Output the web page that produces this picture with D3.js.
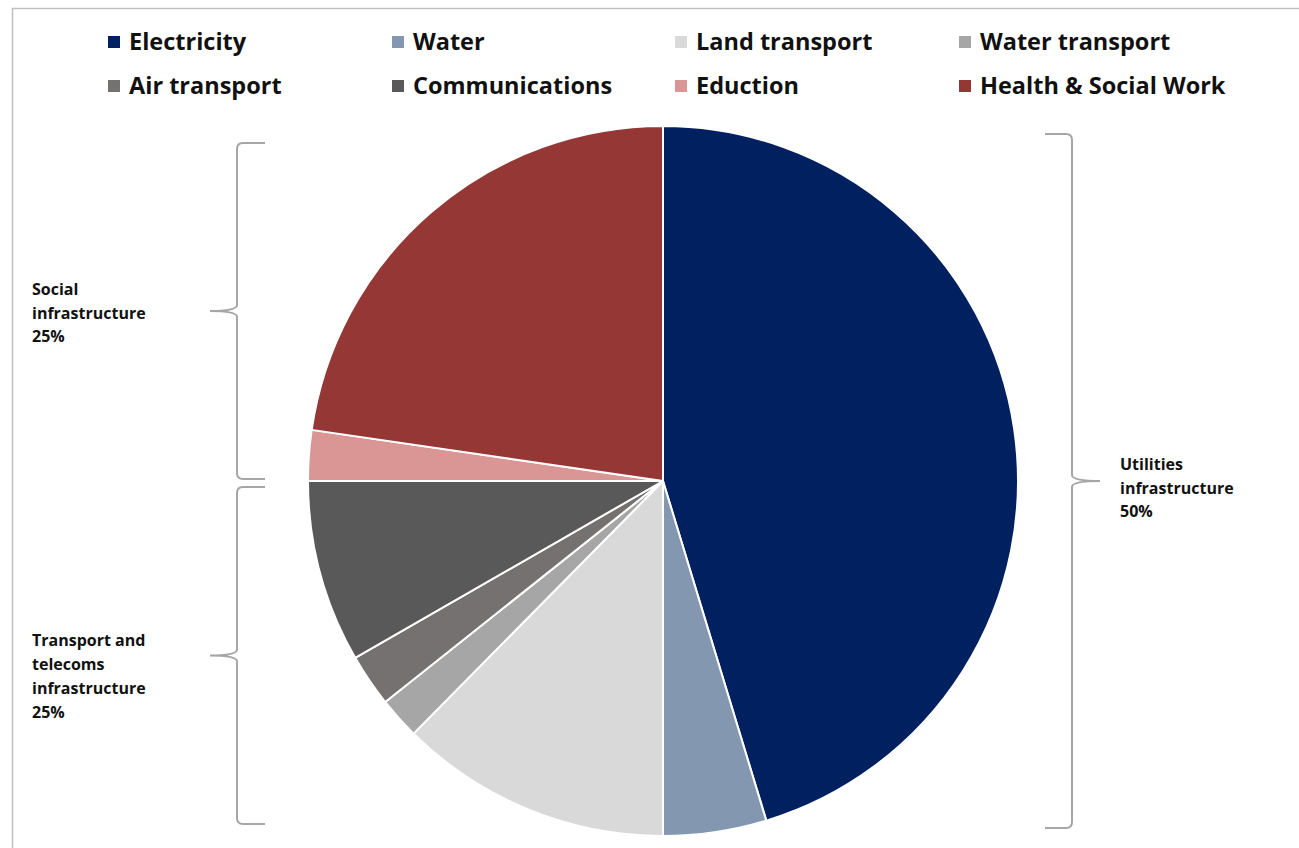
<!DOCTYPE html>
<html>
<head>
<meta charset="utf-8">
<script src="https://cdn.jsdelivr.net/npm/d3@7"></script>
<style>
  html, body { margin: 0; padding: 0; background: #fff; }
  svg { display: block; }
  text { font-family: "Open Sans", Lato, sans-serif; font-weight: bold; fill: #111; }
</style>
</head>
<body>
<svg id="chart" width="1299" height="848"></svg>
<script>
const categories = ["Electricity", "Water", "Land transport", "Water transport",
                    "Air transport", "Communications", "Eduction", "Health & Social Work"];
const values = [45.3, 4.7, 12.4, 1.9, 2.4, 8.3, 2.3, 22.7];
const colors = ["#002060", "#8497B0", "#D9D9D9", "#A6A6A6", "#767171", "#595959", "#D99694", "#953735"];

const groupLabels = [
  ["Utilities", "infrastructure", "50%"],
  ["Transport and", "telecoms", "infrastructure", "25%"],
  ["Social", "infrastructure", "25%"]
];

const svg = d3.select("#chart");
const W = 1299, H = 848;

// frame
svg.append("path")
  .attr("d", `M12.5,${H} L12.5,8.5 L${W},8.5`)
  .attr("fill", "none").attr("stroke", "#BFBFBF").attr("stroke-width", 1.5);

// pie
const cx = 663, cy = 481, R = 355;
const pie = d3.pie().sort(null).value(d => d)(values);
const arc = d3.arc().innerRadius(0).outerRadius(R);
const g = svg.append("g").attr("transform", `translate(${cx},${cy})`);
g.selectAll("path").data(pie).join("path")
  .attr("d", arc)
  .attr("fill", (d, i) => colors[i])
  .attr("stroke", "#fff").attr("stroke-width", 2).attr("stroke-linejoin", "round");

// legend
const legCols = [108, 392, 675, 959];
const legRows = [42, 86];
const leg = svg.append("g");
categories.forEach((c, i) => {
  const x = legCols[i % 4], y = legRows[Math.floor(i / 4)];
  leg.append("rect").attr("x", x).attr("y", y - 6).attr("width", 12).attr("height", 12).attr("fill", colors[i]);
  leg.append("text").attr("x", x + 21).attr("y", y).attr("dy", "0.36em")
    .attr("font-size", 23.5).text(c);
});

function brace(xv, xEnd, xTip, y0, y1) {
  const ym = (y0 + y1) / 2;
  const s = Math.sign(xEnd - xv);
  const r = 6;
  return `M${xEnd},${y0} L${xv + s * r},${y0} Q${xv},${y0} ${xv},${y0 + r}` +
         ` L${xv},${ym - r} Q${xv},${ym} ${xTip},${ym}` +
         ` Q${xv},${ym} ${xv},${ym + r} L${xv},${y1 - r} Q${xv},${y1} ${xv + s * r},${y1} L${xEnd},${y1}`;
}
const braceStyle = p => p.attr("fill", "none").attr("stroke", "#A6A6A6").attr("stroke-width", 2);

svg.append("path").attr("d", brace(1072, 1045, 1100, 134, 828)).call(braceStyle);
svg.append("path").attr("d", brace(237, 265, 210, 487, 824)).call(braceStyle);
svg.append("path").attr("d", brace(237, 265, 210, 143, 479)).call(braceStyle);

function multiline(lines, x, y0, lh) {
  const t = svg.append("text").attr("x", x).attr("y", y0).attr("font-size", 16);
  lines.forEach((l, i) => t.append("tspan").attr("x", x).attr("dy", i === 0 ? 0 : lh).text(l));
}
multiline(groupLabels[0], 1120, 470, 23.5);
multiline(groupLabels[1], 32, 646, 24);
multiline(groupLabels[2], 32, 295, 23.5);
</script>
</body>
</html>
